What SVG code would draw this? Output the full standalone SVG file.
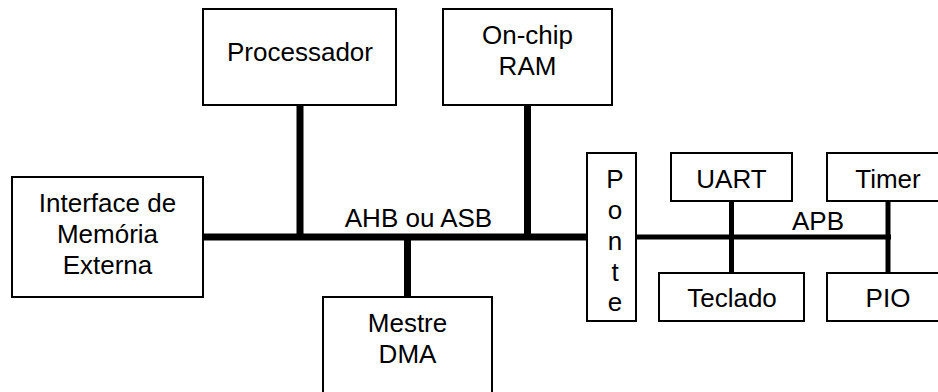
<svg xmlns="http://www.w3.org/2000/svg" width="938" height="392" viewBox="0 0 938 392">
<style>
.box{fill:#fff;stroke:#000;stroke-width:2}
text{font-family:"Liberation Sans",Arial,sans-serif;font-size:26px;fill:#000;text-anchor:middle}
.bus{stroke:#000;stroke-width:7;fill:none}
.pbus{stroke:#000;stroke-width:5;fill:none}
</style>
<rect width="938" height="392" fill="#fff"/>
<g id="connectors">
<line class="bus" x1="203" y1="237" x2="587" y2="237"/>
<line class="bus" x1="300" y1="105" x2="300" y2="237"/>
<line class="bus" x1="527.5" y1="105" x2="527.5" y2="237"/>
<line class="bus" x1="407.5" y1="237" x2="407.5" y2="297"/>
<line class="pbus" x1="636" y1="237" x2="891" y2="237"/>
<line class="pbus" x1="731.5" y1="201" x2="731.5" y2="273"/>
<line class="pbus" x1="888" y1="201" x2="888" y2="273"/>
<text x="418.5" y="227">AHB ou ASB</text>
<text x="818" y="230">APB</text>
</g>
<g id="processador">
<rect class="box" x="203" y="9" width="193" height="96"/>
<text x="300" y="61">Processador</text>
</g>
<g id="ram">
<rect class="box" x="443" y="9" width="169" height="96"/>
<text x="527.5" y="44">On-chip</text>
<text x="527.5" y="75">RAM</text>
</g>
<g id="interface">
<rect class="box" x="12" y="177" width="191" height="120"/>
<text x="107.5" y="212">Interface de</text>
<text x="107.5" y="243">Memória</text>
<text x="107.5" y="274">Externa</text>
</g>
<g id="dma">
<rect class="box" x="323" y="297" width="169" height="100"/>
<text x="407.5" y="332">Mestre</text>
<text x="407.5" y="363">DMA</text>
</g>
<g id="ponte">
<rect class="box" x="587" y="153" width="49" height="168"/>
<text x="615" y="188">P</text>
<text x="615" y="219">o</text>
<text x="615" y="250">n</text>
<text x="615" y="281">t</text>
<text x="615" y="311">e</text>
</g>
<g id="uart">
<rect class="box" x="671" y="153" width="121" height="48"/>
<text x="731.5" y="188">UART</text>
</g>
<g id="timer">
<rect class="box" x="827" y="153" width="120" height="48"/>
<text x="888" y="188">Timer</text>
</g>
<g id="teclado">
<rect class="box" x="659" y="273" width="145" height="48"/>
<text x="732" y="307">Teclado</text>
</g>
<g id="pio">
<rect class="box" x="827" y="273" width="120" height="48"/>
<text x="888" y="307">PIO</text>
</g>
</svg>
